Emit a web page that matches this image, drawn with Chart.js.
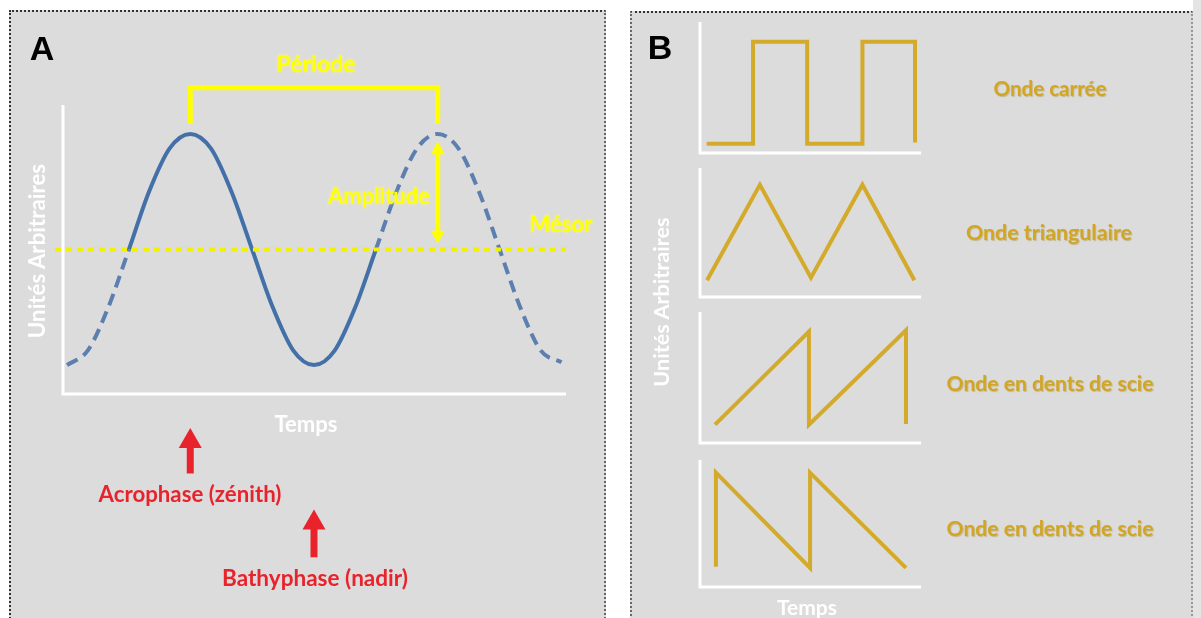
<!DOCTYPE html>
<html><head><meta charset="utf-8">
<script src="https://cdn.jsdelivr.net/npm/chart.js@4.4.1/dist/chart.umd.min.js"></script>
<style>
html,body{margin:0;padding:0;width:1201px;height:618px;overflow:hidden;background:#fff;}
.panel{position:absolute;background:#dcdcdc;box-sizing:border-box;}
#pA{left:9px;top:10px;width:597px;height:620px;border-top:2px dotted #333;border-left:2px dotted #333;border-right:2px dotted #666;}
#pB{left:630px;top:11px;width:563px;height:620px;border-top:2px dotted #333;border-left:2px dotted #666;border-right:2px dotted #999;}
#rf{position:absolute;left:1193px;top:0;width:8px;height:618px;background:#e4e4e4;}
canvas{position:absolute;left:0;top:0;}
.t{position:absolute;white-space:nowrap;font-weight:bold;line-height:1;}
</style></head><body>
<div class="panel" id="pA"></div><div class="panel" id="pB"></div><div id="rf"></div>
<canvas id="cA" width="1201" height="618"></canvas>
<canvas id="cB1" width="1201" height="618"></canvas>
<canvas id="cB2" width="1201" height="618"></canvas>
<canvas id="cB3" width="1201" height="618"></canvas>
<canvas id="cB4" width="1201" height="618"></canvas>
<div id="texts"></div>
<script>
// ---------- DATA ----------
// Panel A : rythme circadien (unités arbitraires, temps 0-100)
const curveX = [0.8, 4.9, 9.0, 13.1, 17.1, 21.2, 25.3, 29.4, 33.5, 37.6, 41.7, 45.8, 49.9, 54.0, 58.1, 62.2, 66.3, 70.4, 74.5, 78.6, 82.7, 86.8, 90.9, 95.0, 99.1];
const curveY = [1.0, 1.5, 3.0, 5.0, 7.0, 8.5, 9.0, 8.5, 7.0, 5.0, 3.0, 1.5, 1.0, 1.5, 3.0, 5.0, 7.0, 8.5, 9.0, 8.5, 7.0, 5.0, 3.0, 1.5, 1.1];
const solidRange = [3, 15];            // indices of the solid (observed) part
const mesorValue = 5.0;
const mesorX = [-1.6, 100];
const acrophaseX = 25.3;               // first peak
const bathyphaseX = 49.9;              // trough
const secondPeakX = 74.5;
const peakValue = 9.0;
const bracketTopY = 10.6;
const bracketLegY = 9.35;

// Panel B : formes d'onde
const squareX = [3, 24, 24, 48.5, 48.5, 73.5, 73.5, 97.3, 97.3];
const squareY = [0.7, 0.7, 8.5, 8.5, 0.7, 0.7, 8.5, 8.5, 0.8];
const triX = [3.2, 27.1, 50.2, 73.5, 97];
const triY = [1.3, 8.7, 1.5, 8.7, 1.3];
const sawUpX = [6.8, 49.3, 49.3, 93.2, 93.2];
const sawUpY = [1.4, 8.5, 1.4, 8.6, 1.45];
const sawDownX = [7.2, 7.2, 49.8, 49.8, 93.2];
const sawDownY = [1.6, 9.0, 1.5, 9.0, 1.5];

const labelsB = ['Onde carrée', 'Onde triangulaire', 'Onde en dents de scie', 'Onde en dents de scie'];

// ---------- helpers ----------
const pts = (xs, ys) => xs.map((x, i) => ({x, y: ys[i]}));

const lAxes = {
  id: 'lAxes',
  beforeDatasetsDraw(chart, args, o) {
    const {ctx, chartArea: a} = chart;
    ctx.save();
    ctx.strokeStyle = o.color || '#fff';
    ctx.lineWidth = o.width || 3;
    ctx.beginPath();
    ctx.moveTo(a.left, a.top);
    ctx.lineTo(a.left, a.bottom);
    ctx.lineTo(a.right, a.bottom);
    ctx.stroke();
    ctx.restore();
  }
};

function headAt(ctx, x, tipY, dir, w, len) {
  ctx.beginPath();
  ctx.moveTo(x, tipY);
  ctx.lineTo(x - w / 2, tipY - dir * len);
  ctx.lineTo(x + w / 2, tipY - dir * len);
  ctx.closePath();
  ctx.fill();
}
const arrows = {
  id: 'arrows',
  afterDatasetsDraw(chart, args, o) {
    const {ctx, scales: {x, y}} = chart;
    (o.items || []).forEach(it => {
      const px = x.getPixelForValue(it.x);
      const yFrom = y.getPixelForValue(it.from);
      const yTo = y.getPixelForValue(it.to);
      const dir = Math.sign(yTo - yFrom);
      ctx.save();
      ctx.strokeStyle = it.color; ctx.fillStyle = it.color; ctx.lineWidth = it.width;
      const s = it.both ? yFrom + dir * it.len * 0.9 : yFrom;
      const e = yTo - dir * it.len * 0.9;
      ctx.beginPath(); ctx.moveTo(px, s); ctx.lineTo(px, e); ctx.stroke();
      headAt(ctx, px, yTo, dir, it.head, it.len);
      if (it.both) headAt(ctx, px, yFrom, -dir, it.head, it.len);
      ctx.restore();
    });
  }
};

const W = 1201, H = 618;
function baseOptions(area, extra) {
  return Object.assign({
    responsive: false,
    animation: false,
    events: [],
    layout: {padding: {left: area.l, top: area.t, right: W - area.r, bottom: H - area.b}},
    scales: {
      x: {type: 'linear', min: 0, max: 100, display: false},
      y: {type: 'linear', min: 0, max: 10, display: false}
    },
    plugins: Object.assign({legend: {display: false}, tooltip: {enabled: false},
                            lAxes: {color: '#ffffff', width: 3}}, extra || {})
  });
}

// ---------- Panel A ----------
const blue = '#4470a8', blueDash = '#5d7fb0', yellow = '#ffff00', red = '#e8232b';
const isDashed = c => c.p0DataIndex < solidRange[0] || c.p0DataIndex >= solidRange[1];
new Chart(document.getElementById('cA'), {
  type: 'line',
  data: {datasets: [
    {data: pts(mesorX, mesorX.map(() => mesorValue)), borderColor: '#f2f200', borderWidth: 4,
     borderDash: [6, 5], pointRadius: 0, tension: 0, clip: false},
    {data: pts(curveX, curveY), borderColor: blue, borderWidth: 4, pointRadius: 0,
     cubicInterpolationMode: 'monotone', clip: false,
     segment: {borderDash: c => isDashed(c) ? [12, 7] : undefined,
               borderColor: c => isDashed(c) ? blueDash : undefined}},
    {data: pts([acrophaseX, acrophaseX, secondPeakX, secondPeakX], [bracketLegY, bracketTopY, bracketTopY, bracketLegY]),
     borderColor: yellow, borderWidth: 5, pointRadius: 0, tension: 0, clip: false,
     borderJoinStyle: 'miter'}
  ]},
  options: baseOptions({l: 63, t: 105, r: 566, b: 394}, {
    arrows: {items: [
      {x: secondPeakX, from: peakValue - 0.25, to: mesorValue + 0.2, color: yellow, width: 5, head: 14, len: 13, both: true},
      {x: acrophaseX, from: -2.75, to: -1.18, color: red, width: 7, head: 23, len: 20},
      {x: bathyphaseX, from: -5.65, to: -4.0, color: red, width: 7, head: 23, len: 20}
    ]}
  }),
  plugins: [lAxes, arrows]
});

// ---------- Panel B ----------
const gold = '#d4aa2a';
function waveChart(id, xs, ys, area) {
  new Chart(document.getElementById(id), {
    type: 'line',
    data: {datasets: [{data: pts(xs, ys), borderColor: gold, borderWidth: 4, pointRadius: 0,
                       tension: 0, clip: false, borderJoinStyle: 'miter'}]},
    options: baseOptions(area),
    plugins: [lAxes]
  });
}
waveChart('cB1', squareX, squareY, {l: 700, t: 22, r: 921, b: 153});
waveChart('cB2', triX, triY, {l: 700, t: 168, r: 921, b: 297});
waveChart('cB3', sawUpX, sawUpY, {l: 700, t: 312, r: 921, b: 443});
waveChart('cB4', sawDownX, sawDownY, {l: 700, t: 460, r: 921, b: 587});

// ---------- Texts ----------
const FAM = 'Lato, "Open Sans", sans-serif';
const mctx = document.createElement('canvas').getContext('2d');
function addText(txt, cx, cy, width, color, rot, shadow, family, fixedSize) {
  const d = document.createElement('div');
  d.className = 't';
  d.textContent = txt;
  const fam = family || FAM;
  let size = fixedSize;
  if (!size) {
    mctx.font = 'bold 100px ' + fam;
    size = 100 * width / mctx.measureText(txt).width;
  }
  d.style.fontFamily = fam;
  d.style.fontSize = size.toFixed(2) + 'px';
  d.style.color = color;
  d.style.left = cx + 'px';
  d.style.top = cy + 'px';
  d.style.transform = 'translate(-50%,-50%)' + (rot ? ' rotate(' + rot + 'deg)' : '');
  if (shadow) d.style.textShadow = shadow;
  document.getElementById('texts').appendChild(d);
}
const yShadow = '0 0 3px rgba(255,255,120,0.8)';
const gShadow = '1px 1px 1px rgba(150,120,0,0.35)';
addText('A', 42, 48, 0, '#000', 0, '', '"Liberation Sans", Arial, sans-serif', 34);
addText('B', 660, 47, 0, '#000', 0, '', '"Liberation Sans", Arial, sans-serif', 34);
addText('Période', 316, 64, 79, yellow, 0, yShadow);
addText('Amplitude', 379, 196, 102, yellow, 0, yShadow);
addText('Mésor', 561, 224, 63, yellow, 0, yShadow);
addText('Unités Arbitraires', 37, 251, 175, '#ffffff', -90);
addText('Temps', 306, 424, 63, '#ffffff');
addText('Acrophase (zénith)', 190, 494, 183, red);
addText('Bathyphase (nadir)', 315, 578, 186, red);
addText(labelsB[0], 1050, 88, 113, '#d2a624', 0, gShadow);
addText(labelsB[1], 1049, 233, 166, '#d2a624', 0, gShadow);
addText(labelsB[2], 1050, 383, 207, '#d2a624', 0, gShadow);
addText(labelsB[3], 1050, 528, 207, '#d2a624', 0, gShadow);
addText('Unités Arbitraires', 662, 302, 170, '#ffffff', -90);
addText('Temps', 807, 606, 60, '#ffffff');
</script>
</body></html>
